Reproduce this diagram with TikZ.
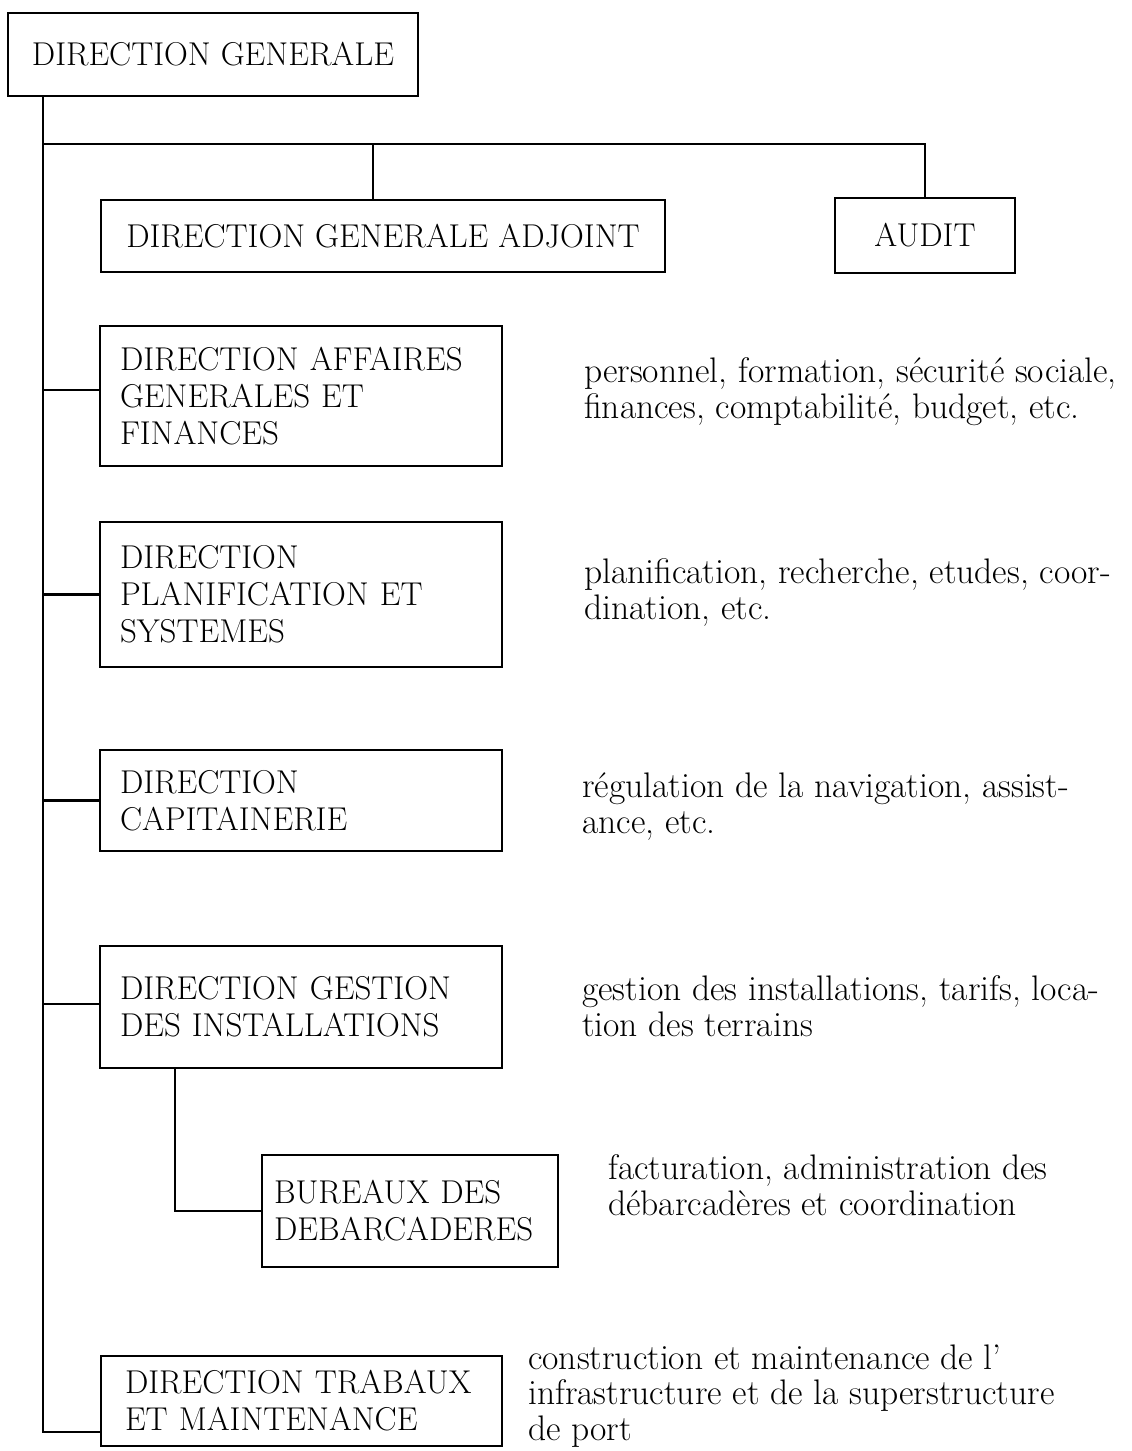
\documentclass[tikz,border=0pt]{standalone}
\usepackage{fontspec}
\usetikzlibrary{calc}
\begin{document}
\begin{tikzpicture}[x=1pt,y=-1pt,
  wire/.style={line width=2.4pt},
  unit/.style={draw,line width=2.4pt,anchor=north west,inner ysep=0pt,outer sep=0pt,
    font=\fontsize{33}{37}\selectfont},
  unitc/.style={unit,align=center,inner xsep=0pt},
  unitl/.style={unit,align=left,inner xsep=20pt,text width=#1},
  note/.style={anchor=base west,align=left,inner sep=0pt,
    font=\fontsize{35.5}{35.5}\selectfont}]
\useasboundingbox (0,0) rectangle (1132,1451);

% organisational units
\node[unitc,minimum width=410,minimum height=83] (dg) at (8,13) {DIRECTION GENERALE};
\node[unitc,minimum width=564,minimum height=72] (dga) at (101,200) {DIRECTION GENERALE ADJOINT};
\node[unitc,minimum width=180,minimum height=75] (audit) at (835,198) {AUDIT};
\node[unitl=362,minimum height=140] (agf) at (100,326)
  {DIRECTION AFFAIRES\\GENERALES ET\\FINANCES};
\node[unitl=362,minimum height=145] (pls) at (100,522)
  {DIRECTION\\PLANIFICATION ET\\SYSTEMES};
\node[unitl=362,minimum height=101] (cap) at (100,750)
  {DIRECTION\\CAPITAINERIE};
\node[unitl=362,minimum height=122] (gi) at (100,946)
  {DIRECTION GESTION\\DES INSTALLATIONS};
\node[unitl=272,inner xsep=12pt,minimum height=112] (bur) at (262,1155)
  {BUREAUX DES\\DEBARCADERES};
\node[unitl=353,inner xsep=24pt,minimum height=90] (tm) at (101,1356)
  {DIRECTION TRABAUX\\ET MAINTENANCE};

% responsibilities (anchored on the baseline of their last line)
\node[note] (n1) at (584,418) {personnel, formation, sécurité sociale,\\finances, comptabilité, budget, etc.};
\node[note] (n2) at (584,619) {planification, recherche, etudes, coor-\\dination, etc.};
\node[note] (n3) at (582,833) {régulation de la navigation, assist-\\ance, etc.};
\node[note] (n4) at (582,1036) {gestion des installations, tarifs, loca-\\tion des terrains};
\node[note] (n5) at (608,1215) {facturation, administration des\\débarcadères et coordination};
\node[note] (n6) at (528,1440) {construction et maintenance de l’\\infrastructure et de la superstructure\\de port};

% reporting lines
\coordinate (tx) at (43,0);
\coordinate (bar) at (0,144);
\draw[wire] (tx |- dg.south) |- ([yshift=14pt]tm.south west);
\draw[wire] (tx |- bar) -| (audit.north);
\draw[wire] ([xshift=-10pt]dga.north) -- ([xshift=-10pt]dga.north |- bar);
\draw[wire] ([yshift=6pt]tx |- agf.west) -- ([yshift=6pt]agf.west);
\draw[wire] (tx |- pls.west) -- (pls.west);
\draw[wire] (tx |- cap.west) -- (cap.west);
\draw[wire] ([yshift=3pt]tx |- gi.west) -- ([yshift=3pt]gi.west);
\draw[wire] ([xshift=75pt]gi.south west) |- (bur.west);
\end{tikzpicture}
\end{document}
